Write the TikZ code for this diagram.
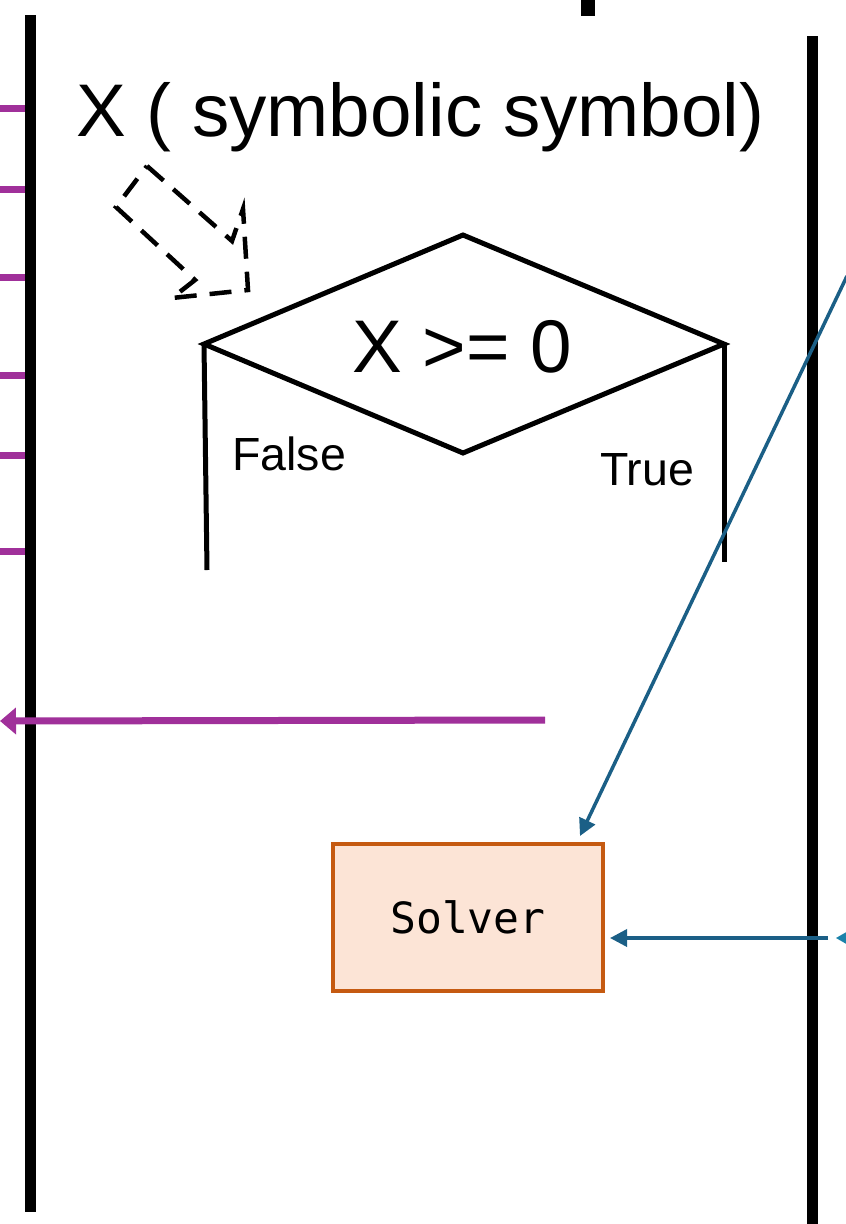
\documentclass[tikz,border=0pt]{standalone}
\usepackage{fontspec}
\setmainfont{Liberation Sans}
\newfontfamily\solvermono{DejaVu Sans Mono}
\usetikzlibrary{arrows.meta}
\definecolor{callpurple}{HTML}{A0309A}
\definecolor{solverblue}{HTML}{1B5F86}
\definecolor{lightblue}{HTML}{1B82AA}
\definecolor{solverfill}{HTML}{FCE4D6}
\definecolor{solverdraw}{HTML}{C55A11}
\tikzset{
  lifeline/.style={line width=11pt, black},
  purpletick/.style={line width=7pt, callpurple},
  purplearrow/.style={line width=7pt, callpurple, -{Triangle[length=16pt,width=26pt]}},
  bluearrow/.style={line width=3.5pt, solverblue, -{Triangle[length=17pt,width=17pt]}},
  dashedblock/.style={line width=4.5pt, black, dash pattern=on 22pt off 13pt, line join=miter},
  diamondline/.style={line width=5pt, black, line join=miter},
  solverbox/.style={draw=solverdraw, fill=solverfill, line width=3.5pt, minimum width=270pt, minimum height=147pt, inner sep=0pt},
  bigtext/.style={inner sep=0pt, font=\fontsize{74.6}{80}\selectfont},
  smalltext/.style={inner sep=0pt, font=\fontsize{46.5}{50}\selectfont}
}
\begin{document}
\begin{tikzpicture}[x=1pt,y=-1pt]
\useasboundingbox (0,0) rectangle (846,1224);
\clip (0,0) rectangle (846,1224);
% lifelines and ticks
\foreach \yy in {108,189,277,375,455,551} \draw[purpletick] (0,\yy) -- (28,\yy);
\coordinate (ltop) at (30,15);
\coordinate (lbot) at (30,1212);
\coordinate (rtop) at (812,36);
\coordinate (rbot) at (812,1230);
\draw[lifeline] (ltop) -- (lbot);
\draw[lifeline] (rtop) -- (rbot);
\fill[black] (581,-2) rectangle (595,16);
% title
\node[bigtext, anchor=base west] (title) at (76,136) {X ( symbolic symbol)};
% dashed block arrow
\draw[dashedblock] (147,166) -- (232,241) -- (243,209) -- (248,290) -- (172,298) -- (195,280) -- (116,207) -- cycle;
% diamond
\coordinate (dt) at (463,235);
\coordinate (dl) at (204,344);
\coordinate (db) at (463,453);
\coordinate (dr) at (724,344);
\coordinate (fend) at (207,570);
\coordinate (tend) at (724,562);
\draw[diamondline] (dl) -- (dt) -- (dr) -- (db) -- cycle;
\draw[diamondline] (dl) -- (fend);
\draw[diamondline] (dr) -- (tend);
\node[bigtext, anchor=base] (cond) at (462,372) {X >= 0};
\node[smalltext, anchor=base west] (false) at (232,470) {False};
\node[smalltext, anchor=base west] (true) at (600,485) {True};
% purple arrow
\coordinate (ps) at (545,720);
\coordinate (pe) at (0,721);
\draw[purplearrow] (ps) -- (pe);
% solver
\node[solverbox] (solver) at (468,917.5) {\solvermono\fontsize{43}{43}\selectfont Solver};
\coordinate (bs) at (847,276);
\coordinate (be) at (580,836);
\draw[bluearrow] (bs) -- (be);
\coordinate (hs) at (828,938);
\coordinate (he) at (610,938);
\draw[bluearrow] (hs) -- (he);
\coordinate (ls) at (880,938);
\coordinate (le) at (836,938);
\draw[line width=3.5pt, lightblue, -{Stealth[length=14pt,width=16pt]}] (ls) -- (le);
\end{tikzpicture}
\end{document}
